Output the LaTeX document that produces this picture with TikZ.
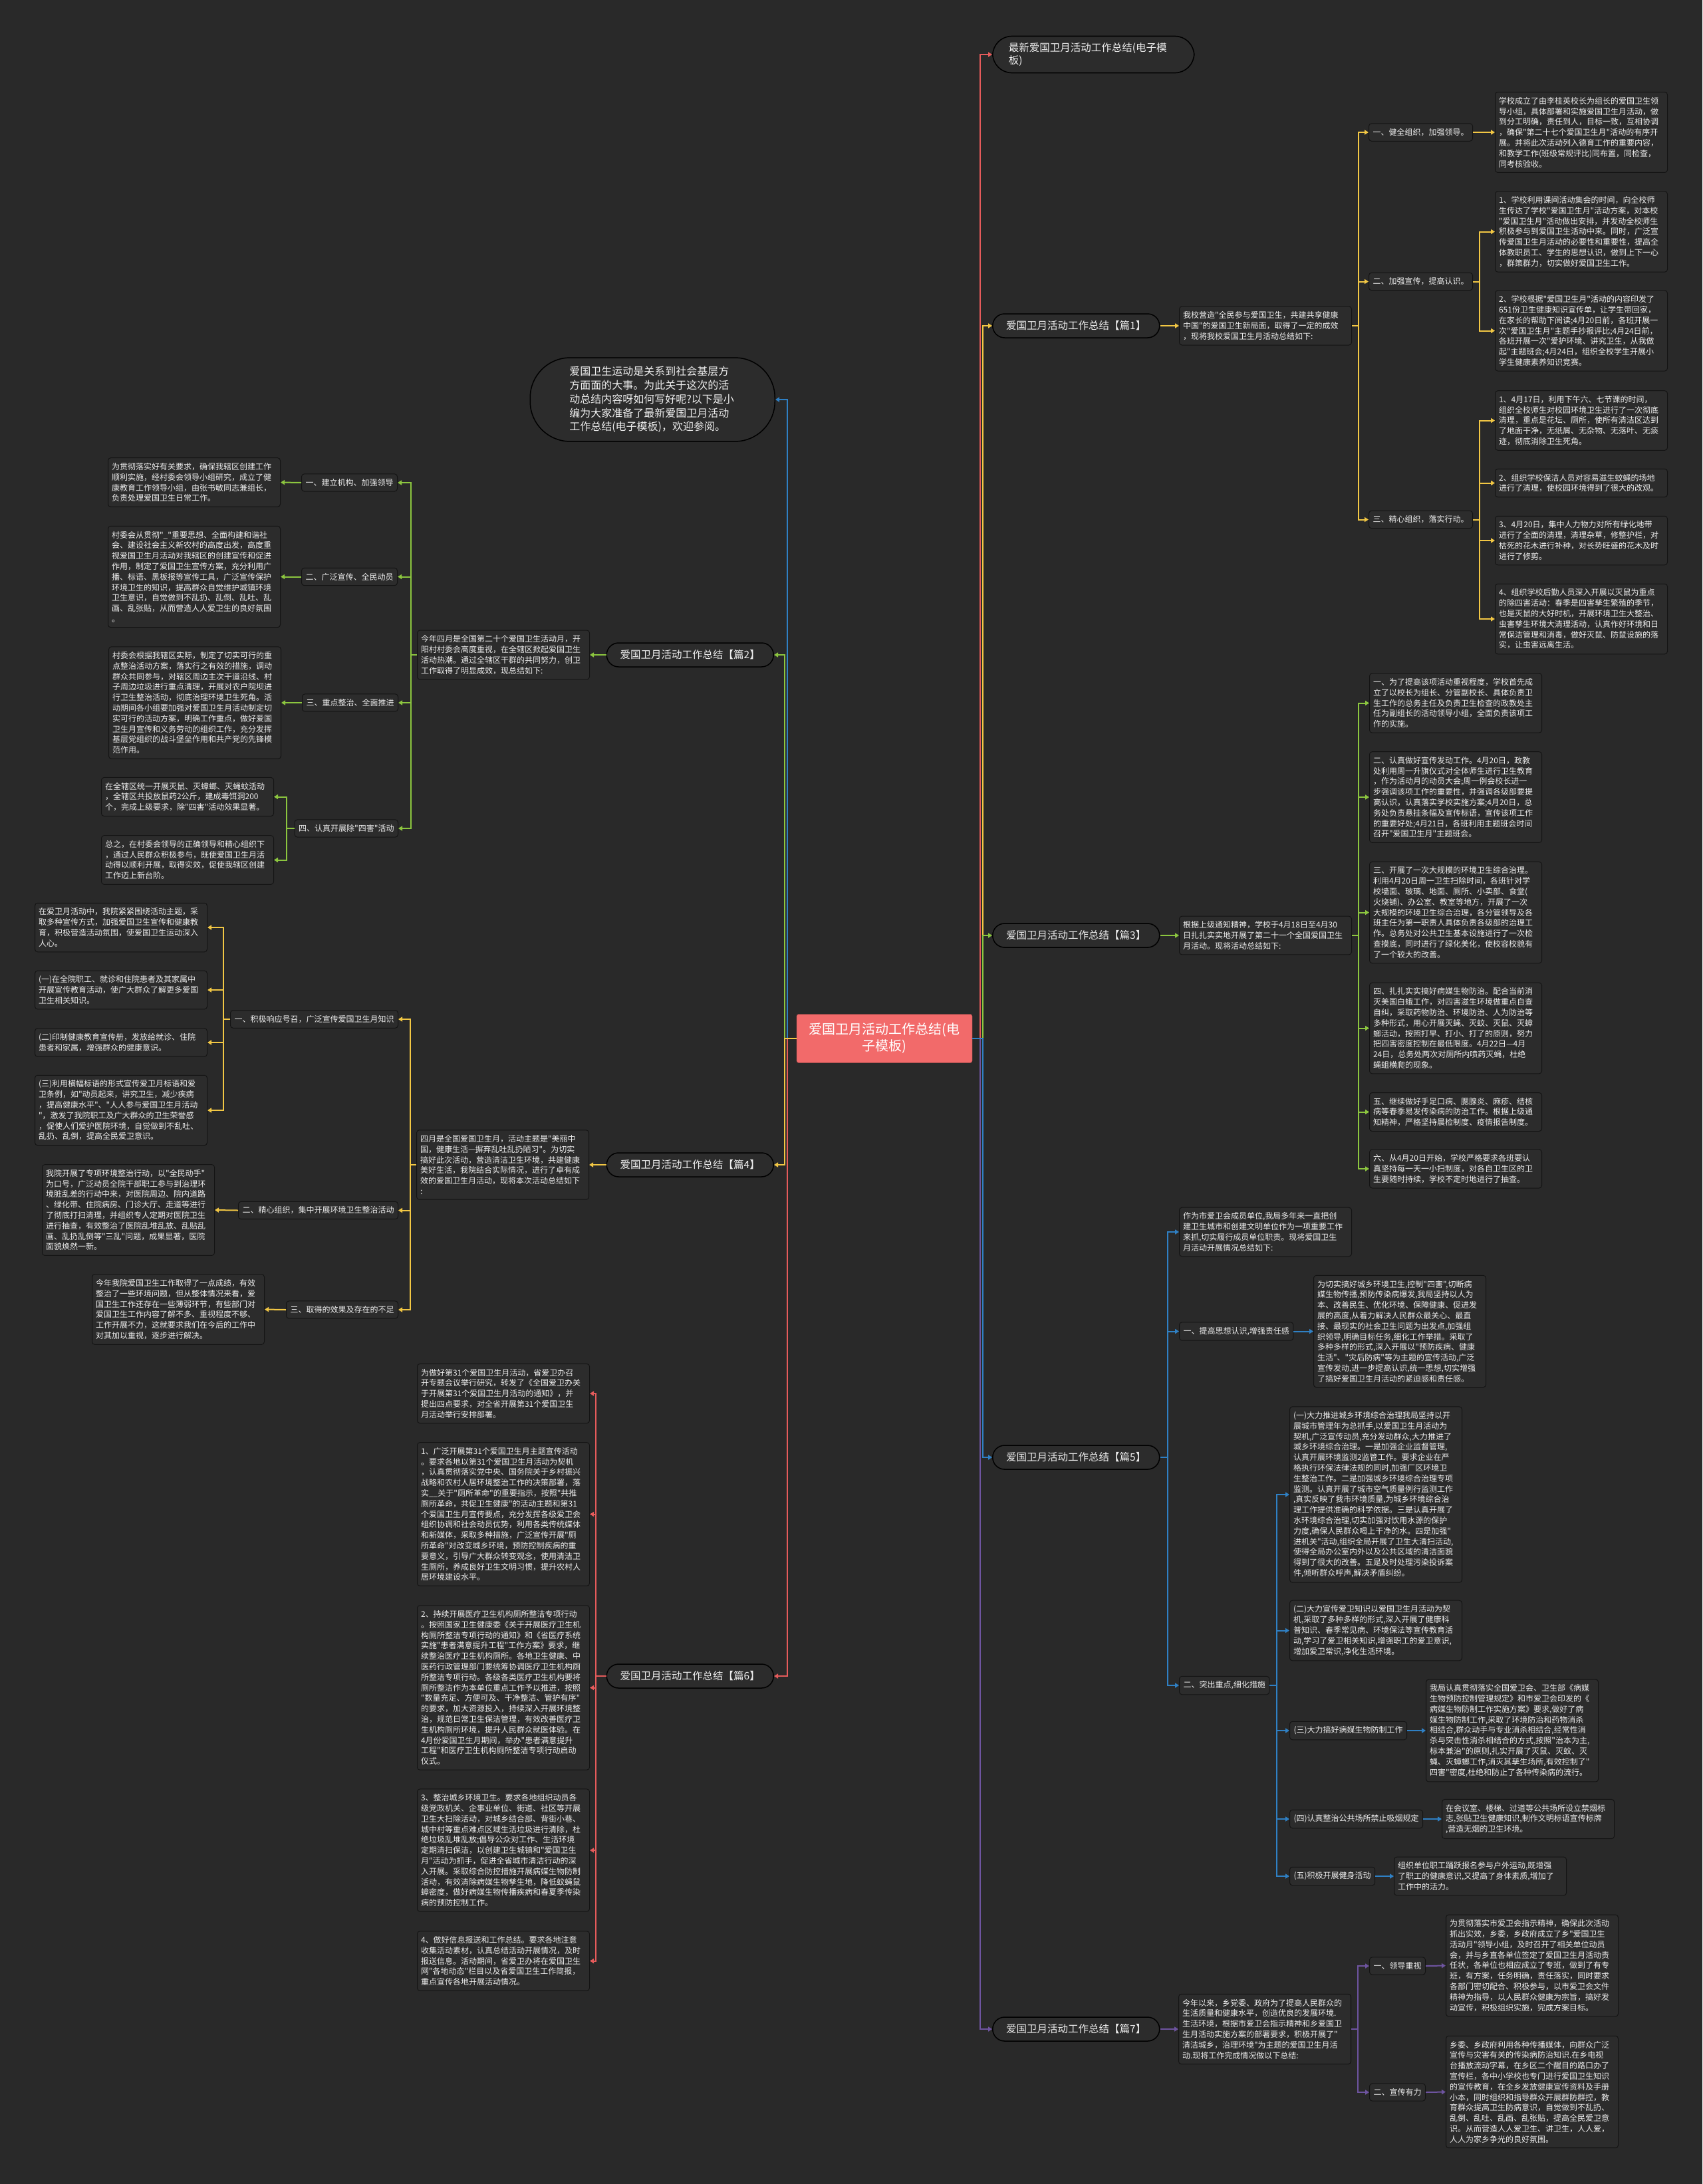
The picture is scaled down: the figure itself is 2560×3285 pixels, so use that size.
\documentclass[tikz,border=0pt]{standalone}
\usepackage{fontspec}
\newfontfamily\cjk{Noto Sans CJK SC}
\usetikzlibrary{arrows.meta,positioning}
\definecolor{bgc}{HTML}{292929}
\definecolor{boxc}{HTML}{2C2C2C}
\definecolor{edgec}{HTML}{141414}
\definecolor{txtc}{HTML}{EDEDED}
\definecolor{cyel}{HTML}{F2C744}
\definecolor{cgrn}{HTML}{8CC63F}
\definecolor{cblu}{HTML}{2F80C4}
\definecolor{cred}{HTML}{E55B5B}
\definecolor{cpur}{HTML}{6E54A0}
\definecolor{cctr}{HTML}{F26A6A}
\tikzset{
  leaf/.style={draw=edgec, fill=boxc, rounded corners=4pt, text=txtc, text width=248pt,
    align=left, inner xsep=5.5pt, inner ysep=7.5pt, line width=1pt,
    font=\cjk\fontsize{12}{15.8}\selectfont},
  sub/.style={draw=edgec, fill=boxc, rounded corners=4pt, text=txtc, inner xsep=6pt,
    inner ysep=7.5pt, line width=1pt, font=\cjk\fontsize{12}{15.8}\selectfont},
  pill/.style={draw=black, fill=boxc, rounded corners=18pt, text=txtc, minimum width=251pt,
    minimum height=36pt, line width=1.5pt, font=\cjk\fontsize{15.5}{19}\selectfont},
  ctr/.style={draw=cctr!70!black, fill=cctr, rounded corners=3pt, text=white, text width=240pt,
    align=center, minimum width=264pt, minimum height=73pt, font=\cjk\fontsize{20}{25}\selectfont},
  lnk/.style={line width=2pt, -{Triangle[length=6pt,width=7pt]}},
  yl/.style={lnk, draw=cyel},
  gl/.style={lnk, draw=cgrn},
  bl/.style={lnk, draw=cblu},
  rl/.style={lnk, draw=cred},
  pl/.style={lnk, draw=cpur}
}
\begin{document}
\begin{tikzpicture}[x=1pt,y=-1pt]
\fill[bgc] (0,0) rectangle (2560,3285);
\useasboundingbox (0,0) rectangle (2560,3285);
% centre
\node[ctr] (c) at (1330,1562) {爱国卫月活动工作总结(电\\子模板)};
% title and intro
\node[pill, anchor=west, text width=255pt, align=left, rounded corners=29pt, inner xsep=24pt, inner ysep=10pt] (top) at (1492,82) {最新爱国卫月活动工作总结(电子模\\板)};
\node[draw=black, fill=boxc, rounded corners=60pt, text=txtc, text width=250pt, align=left, inner xsep=59pt, inner ysep=13pt, line width=1.5pt, font=\cjk\fontsize{16}{20.8}\selectfont, anchor=east] (bub) at (1166,601) {爱国卫生运动是关系到社会基层方\\方面面的大事。为此关于这次的活\\动总结内容呀如何写好呢?以下是小\\编为大家准备了最新爱国卫月活动\\工作总结(电子模板)，欢迎参阅。};

% ---------- 篇1
\node[pill, anchor=west] (p1) at (1492,490) {爱国卫月活动工作总结【篇1】};
\node[leaf, anchor=west] (p1i) at (1773,490) {我校营造"全民参与爱国卫生，共建共享健康\\中国"的爱国卫生新局面，取得了一定的成效\\，现将我校爱国卫生月活动总结如下:};
\node[sub, anchor=west] (p1a) at (2058,199) {一、健全组织，加强领导。};
\node[sub, anchor=west] (p1b) at (2058,423.5) {二、加强宣传，提高认识。};
\node[sub, anchor=west] (p1c) at (2058,781.5) {三、精心组织，落实行动。};
\node[leaf, anchor=west] (p1a1) at (2248,199) {学校成立了由李桂英校长为组长的爱国卫生领\\导小组，具体部署和实施爱国卫生月活动，做\\到分工明确，责任到人，目标一致，互相协调\\，确保"第二十七个爱国卫生月"活动的有序开\\展。并将此次活动列入德育工作的重要内容，\\和教学工作(班级常规评比)同布置，同检查，\\同考核验收。};
\node[leaf, anchor=west] (p1b1) at (2248,348.5) {1、学校利用课间活动集会的时间，向全校师\\生传达了学校"爱国卫生月"活动方案，对本校\\"爱国卫生月"活动做出安排，并发动全校师生\\积极参与到爱国卫生活动中来。同时，广泛宣\\传爱国卫生月活动的必要性和重要性，提高全\\体教职员工、学生的思想认识，做到上下一心\\，群策群力，切实做好爱国卫生工作。};
\node[leaf, anchor=west] (p1b2) at (2248,497.5) {2、学校根据"爱国卫生月"活动的内容印发了\\651份卫生健康知识宣传单，让学生带回家，\\在家长的帮助下阅读;4月20日前，各班开展一\\次"爱国卫生月"主题手抄报评比;4月24日前，\\各班开展一次"爱护环境、讲究卫生，从我做\\起"主题班会;4月24日，组织全校学生开展小\\学生健康素养知识竞赛。};
\node[leaf, anchor=west] (p1c1) at (2248,632.5) {1、4月17日，利用下午六、七节课的时间，\\组织全校师生对校园环境卫生进行了一次彻底\\清理，重点是花坛、厕所，使所有清洁区达到\\了地面干净，无纸屑、无杂物、无落叶、无痰\\迹，彻底消除卫生死角。};
\node[leaf, anchor=west] (p1c2) at (2248,726.5) {2、组织学校保洁人员对容易滋生蚊蝇的场地\\进行了清理，使校园环境得到了很大的改观。};
\node[leaf, anchor=west] (p1c3) at (2248,813) {3、4月20日，集中人力物力对所有绿化地带\\进行了全面的清理，清理杂草，修整护栏，对\\枯死的花木进行补种，对长势旺盛的花木及时\\进行了修剪。};
\node[leaf, anchor=west] (p1c4) at (2248,931) {4、组织学校后勤人员深入开展以灭鼠为重点\\的除四害活动：春季是四害孳生繁殖的季节，\\也是灭鼠的大好时机，开展环境卫生大整治、\\虫害孳生环境大清理活动，认真作好环境和日\\常保洁管理和消毒，做好灭鼠、防鼠设施的落\\实，让虫害远离生活。};

% ---------- 篇3
\node[pill, anchor=west] (p3) at (1492,1407) {爱国卫月活动工作总结【篇3】};
\node[leaf, anchor=west] (p3i) at (1773,1407) {根据上级通知精神，学校于4月18日至4月30\\日扎扎实实地开展了第二十一个全国爱国卫生\\月活动。现将活动总结如下:};
\node[leaf, anchor=west] (p3a) at (2059,1057.5) {一、为了提高该项活动重视程度，学校首先成\\立了以校长为组长、分管副校长、具体负责卫\\生工作的总务主任及负责卫生检查的政教处主\\任为副组长的活动领导小组，全面负责该项工\\作的实施。};
\node[leaf, anchor=west] (p3b) at (2059,1199) {二、认真做好宣传发动工作。4月20日，政教\\处利用周一升旗仪式对全体师生进行卫生教育\\，作为活动月的动员大会;周一例会校长进一\\步强调该项工作的重要性，并强调各级部要提\\高认识，认真落实学校实施方案;4月20日，总\\务处负责悬挂条幅及宣传标语，宣传该项工作\\的重要好处;4月21日，各班利用主题班会时间\\召开"爱国卫生月"主题班会。};
\node[leaf, anchor=west] (p3c) at (2059,1372.5) {三、开展了一次大规模的环境卫生综合治理。\\利用4月20日周一卫生扫除时间，各班针对学\\校墙面、玻璃、地面、厕所、小卖部、食堂(\\火烧铺)、办公室、教室等地方，开展了一次\\大规模的环境卫生综合治理，各分管领导及各\\班主任为第一职责人具体负责各级部的治理工\\作。总务处对公共卫生基本设施进行了一次检\\查摸底，同时进行了绿化美化，使校容校貌有\\了一个较大的改善。};
\node[leaf, anchor=west] (p3d) at (2059,1546.5) {四、扎扎实实搞好病媒生物防治。配合当前消\\灭美国白蛾工作，对四害滋生环境做重点自查\\自纠，采取药物防治、环境防治、人为防治等\\多种形式，用心开展灭蝇、灭蚊、灭鼠、灭蟑\\螂活动，按照打早、打小、打了的原则，努力\\把四害密度控制在最低限度。4月22日—4月\\24日，总务处两次对厕所内喷药灭蝇，杜绝\\蝇蛆横爬的现象。};
\node[leaf, anchor=west] (p3e) at (2059,1672.5) {五、继续做好手足口病、腮腺炎、麻疹、结核\\病等春季易发传染病的防治工作。根据上级通\\知精神，严格坚持晨检制度、疫情报告制度。};
\node[leaf, anchor=west] (p3f) at (2059,1758) {六、从4月20日开始，学校严格要求各班要认\\真坚持每一天一小扫制度，对各自卫生区的卫\\生要随时持续，学校不定时地进行了抽查。};

% ---------- 篇5
\node[pill, anchor=west] (p5) at (1492,2192) {爱国卫月活动工作总结【篇5】};
\node[leaf, anchor=west] (p5i) at (1773,1853) {作为市爱卫会成员单位,我局多年来一直把创\\建卫生城市和创建文明单位作为一项重要工作\\来抓,切实履行成员单位职责。现将爱国卫生\\月活动开展情况总结如下:};
\node[sub, anchor=west] (p5a) at (1773,2002.5) {一、提高思想认识,增强责任感};
\node[leaf, anchor=west] (p5a1) at (1975,2002.5) {为切实搞好城乡环境卫生,控制"四害",切断病\\媒生物传播,预防传染病爆发,我局坚持以人为\\本、改善民生、优化环境、保障健康、促进发\\展的高度,从着力解决人民群众最关心、最直\\接、最现实的社会卫生问题为出发点,加强组\\织领导,明确目标任务,细化工作举措。采取了\\多种多样的形式,深入开展以"预防疾病、健康\\生活"、"灾后防病"等为主题的宣传活动,广泛\\宣传发动,进一步提高认识,统一思想,切实增强\\了搞好爱国卫生月活动的紧迫感和责任感。};
\node[sub, anchor=west] (p5b) at (1773,2535) {二、突出重点,细化措施};
\node[leaf, anchor=west] (p5b1) at (1939,2248) {(一)大力推进城乡环境综合治理我局坚持以开\\展城市管理年为总抓手,以爱国卫生月活动为\\契机,广泛宣传动员,充分发动群众,大力推进了\\城乡环境综合治理。一是加强企业监督管理,\\认真开展环境监测2监管工作。要求企业在严\\格执行环保法律法规的同时,加强厂区环境卫\\生整治工作。二是加强城乡环境综合治理专项\\监测。认真开展了城市空气质量例行监测工作\\,真实反映了我市环境质量,为城乡环境综合治\\理工作提供准确的科学依据。三是认真开展了\\水环境综合治理,切实加强对饮用水源的保护\\力度,确保人民群众喝上干净的水。四是加强"\\进机关"活动,组织全局开展了卫生大清扫活动,\\使得全局办公室内外以及公共区域的清洁面貌\\得到了很大的改善。五是及时处理污染投诉案\\件,倾听群众呼声,解决矛盾纠纷。};
\node[leaf, anchor=west] (p5b2) at (1939,2452.5) {(二)大力宣传爱卫知识以爱国卫生月活动为契\\机,采取了多种多样的形式,深入开展了健康科\\普知识、春季常见病、环境保法等宣传教育活\\动,学习了爱卫相关知识,增强职工的爱卫意识,\\增加爱卫常识,净化生活环境。};
\node[sub, anchor=west] (p5b3) at (1939,2603) {(三)大力搞好病媒生物防制工作};
\node[leaf, right=28pt of p5b3] (p5b3a) {我局认真贯彻落实全国爱卫会、卫生部《病媒\\生物预防控制管理规定》和市爱卫会印发的《\\病媒生物防制工作实施方案》要求,做好了病\\媒生物防制工作,采取了环境防治和药物消杀\\相结合,群众动手与专业消杀相结合,经常性消\\杀与突击性消杀相结合的方式,按照"治本为主,\\标本兼治"的原则,扎实开展了灭鼠、灭蚊、灭\\蝇、灭蟑螂工作,消灭其孳生场所,有效控制了"\\四害"密度,杜绝和防止了各种传染病的流行。};
\node[sub, anchor=west] (p5b4) at (1939,2736) {(四)认真整治公共场所禁止吸烟规定};
\node[leaf, right=28pt of p5b4] (p5b4a) {在会议室、楼梯、过道等公共场所设立禁烟标\\志,张贴卫生健康知识,制作文明标语宣传标牌\\,营造无烟的卫生环境。};
\node[sub, anchor=west] (p5b5) at (1939,2822) {(五)积极开展健身活动};
\node[leaf, right=28pt of p5b5] (p5b5a) {组织单位职工踊跃报名参与户外运动,既增强\\了职工的健康意识,又提高了身体素质,增加了\\工作中的活力。};

% ---------- 篇7
\node[pill, anchor=west] (p7) at (1492,3052) {爱国卫月活动工作总结【篇7】};
\node[leaf, anchor=west] (p7i) at (1772,3052) {今年以来，乡党委、政府为了提高人民群众的\\生活质量和健康水平，创造优良的发展环境.\\生活环境，根据市爱卫会指示精神和乡爱国卫\\生月活动实施方案的部署要求，积极开展了"\\清洁城乡，治理环境"为主题的爱国卫生月活\\动.现将工作完成情况做以下总结:};
\node[sub, anchor=west] (p7a) at (2059,2957) {一、领导重视};
\node[sub, anchor=west] (p7b) at (2059,3147) {二、宣传有力};
\node[leaf, anchor=west] (p7a1) at (2174,2956.5) {为贯彻落实市爱卫会指示精神，确保此次活动\\抓出实效，乡委，乡政府成立了乡"爱国卫生\\活动月"领导小组，及时召开了相关单位动员\\会，并与乡直各单位签定了爱国卫生月活动责\\任状，各单位也相应成立了专班，做到了有专\\班，有方案，任务明确，责任落实，同时要求\\各部门密切配合、积极参与，以市爱卫会文件\\精神为指导，以人民群众健康为宗旨，搞好发\\动宣传，积极组织实施，完成方案目标。};
\node[leaf, anchor=west] (p7b1) at (2174,3146.5) {乡委、乡政府利用各种传播媒体，向群众广泛\\宣传与灾害有关的传染病防治知识.在乡电视\\台播放流动字幕，在乡区二个醒目的路口办了\\宣传栏，各中小学校也专门进行爱国卫生知识\\的宣传教育，在全乡发放健康宣传资料及手册\\小本，同时组织和指导群众开展群防群控，教\\育群众提高卫生防病意识，自觉做到不乱扔、\\乱倒、乱吐、乱画、乱张贴，提高全民爱卫意\\识。从而营造人人爱卫生、讲卫生，人人爱，\\人人为家乡争光的良好氛围。};

% ---------- 篇2
\node[pill, anchor=east] (p2) at (1164,985) {爱国卫月活动工作总结【篇2】};
\node[leaf, anchor=east] (p2i) at (887,985) {今年四月是全国第二十个爱国卫生活动月，开\\阳村村委会高度重视，在全辖区掀起爱国卫生\\活动热潮。通过全辖区干群的共同努力，创卫\\工作取得了明显成效，现总结如下:};
\node[sub, anchor=east] (p2a) at (598,726) {一、建立机构、加强领导};
\node[sub, anchor=east] (p2b) at (598,867.5) {二、广泛宣传、全民动员};
\node[sub, anchor=east] (p2c) at (599,1057) {三、重点整治、全面推进};
\node[sub, anchor=east] (p2d) at (599,1246) {四、认真开展除"四害"活动};
\node[leaf, anchor=east] (p2a1) at (422,725.5) {为贯彻落实好有关要求，确保我辖区创建工作\\顺利实施，经村委会领导小组研究，成立了健\\康教育工作领导小组，由张书敏同志兼组长，\\负责处理爱国卫生日常工作。};
\node[leaf, anchor=east] (p2b1) at (422,867.5) {村委会从贯彻"\_"重要思想、全面构建和谐社\\会、建设社会主义新农村的高度出发，高度重\\视爱国卫生月活动对我辖区的创建宣传和促进\\作用，制定了爱国卫生宣传方案，充分利用广\\播、标语、黑板报等宣传工具，广泛宣传保护\\环境卫生的知识，提高群众自觉维护城镇环境\\卫生意识，自觉做到不乱扔、乱倒、乱吐、乱\\画、乱张贴，从而营造人人爱卫生的良好氛围\\。};
\node[leaf, anchor=east] (p2c1) at (423,1057) {村委会根据我辖区实际，制定了切实可行的重\\点整治活动方案，落实行之有效的措施，调动\\群众共同参与，对辖区周边主次干道沿线、村\\子周边垃圾进行重点清理，开展对农户院坝进\\行卫生整治活动，彻底治理环境卫生死角。活\\动期间各小组要加强对爱国卫生月活动制定切\\实可行的活动方案，明确工作重点，做好爱国\\卫生月宣传和义务劳动的组织工作，充分发挥\\基层党组织的战斗堡垒作用和共产党的先锋模\\范作用。};
\node[leaf, anchor=east] (p2d1) at (412,1198.5) {在全辖区统一开展灭鼠、灭蟑螂、灭蝇蚊活动\\，全辖区共投放鼠药2公斤，建成毒饵洞200\\个，完成上级要求，除"四害"活动效果显著。};
\node[leaf, anchor=east] (p2d2) at (412,1293.5) {总之，在村委会领导的正确领导和精心组织下\\，通过人民群众积极参与，既使爱国卫生月活\\动得以顺利开展，取得实效，促使我辖区创建\\工作迈上新台阶。};

% ---------- 篇4
\node[pill, anchor=east] (p4) at (1164,1752) {爱国卫月活动工作总结【篇4】};
\node[leaf, anchor=east] (p4i) at (886,1752) {四月是全国爱国卫生月，活动主题是"美丽中\\国，健康生活—摒弃乱吐乱扔陋习"。为切实\\搞好此次活动，营造清洁卫生环境，共建健康\\美好生活，我院结合实际情况，进行了卓有成\\效的爱国卫生月活动，现将本次活动总结如下\\:};
\node[sub, anchor=east] (p4a) at (599,1533) {一、积极响应号召，广泛宣传爱国卫生月知识};
\node[sub, anchor=east] (p4b) at (599,1820.5) {二、精心组织，集中开展环境卫生整治活动};
\node[sub, anchor=east] (p4c) at (599,1970) {三、取得的效果及存在的不足};
\node[leaf, anchor=east] (p4a1) at (312,1395) {在爱卫月活动中，我院紧紧围绕活动主题，采\\取多种宣传方式，加强爱国卫生宣传和健康教\\育，积极营造活动氛围，使爱国卫生运动深入\\人心。};
\node[leaf, anchor=east] (p4a2) at (312,1489) {(一)在全院职工、就诊和住院患者及其家属中\\开展宣传教育活动，使广大群众了解更多爱国\\卫生相关知识。};
\node[leaf, anchor=east] (p4a3) at (312,1568) {(二)印制健康教育宣传册，发放给就诊、住院\\患者和家属，增强群众的健康意识。};
\node[leaf, anchor=east] (p4a4) at (312,1670) {(三)利用横幅标语的形式宣传爱卫月标语和爱\\卫条例，如"动员起来，讲究卫生，减少疾病\\，提高健康水平"、"人人参与爱国卫生月活动\\"，激发了我院职工及广大群众的卫生荣誉感\\，促使人们爱护医院环境，自觉做到不乱吐、\\乱扔、乱倒，提高全民爱卫意识。};
\node[leaf, anchor=east] (p4b1) at (323,1820) {我院开展了专项环境整治行动，以"全民动手"\\为口号，广泛动员全院干部职工参与到治理环\\境脏乱差的行动中来，对医院周边、院内道路\\、绿化带、住院病房、门诊大厅、走道等进行\\了彻底打扫清理，并组织专人定期对医院卫生\\进行抽查，有效整治了医院乱堆乱放、乱贴乱\\画、乱扔乱倒等"三乱"问题，成果显著，医院\\面貌焕然一新。};
\node[leaf, anchor=east] (p4c1) at (398,1969.5) {今年我院爱国卫生工作取得了一点成绩，有效\\整治了一些环境问题，但从整体情况来看，爱\\国卫生工作还存在一些薄弱环节，有些部门对\\爱国卫生工作内容了解不多、重视程度不够、\\工作开展不力，这就要求我们在今后的工作中\\对其加以重视，逐步进行解决。};

% ---------- 篇6
\node[pill, anchor=east] (p6) at (1164,2521) {爱国卫月活动工作总结【篇6】};
\node[leaf, anchor=east] (p6a) at (887,2096) {为做好第31个爱国卫生月活动，省爱卫办召\\开专题会议举行研究，转发了《全国爱卫办关\\于开展第31个爱国卫生月活动的通知》，并\\提出四点要求，对全省开展第31个爱国卫生\\月活动举行安排部署。};
\node[leaf, anchor=east] (p6b) at (887,2277.5) {1、广泛开展第31个爱国卫生月主题宣传活动\\。要求各地以第31个爱国卫生月活动为契机\\，认真贯彻落实党中央、国务院关于乡村振兴\\战略和农村人居环境整治工作的决策部署，落\\实\_\_关于"厕所革命"的重要指示，按照"共推\\厕所革命，共促卫生健康"的活动主题和第31\\个爱国卫生月宣传要点，充分发挥各级爱卫会\\组织协调和社会动员优势，利用各类传统媒体\\和新媒体，采取多种措施，广泛宣传开展"厕\\所革命"对改变城乡环境，预防控制疾病的重\\要意义，引导广大群众转变观念，使用清洁卫\\生厕所，养成良好卫生文明习惯，提升农村人\\居环境建设水平。};
\node[leaf, anchor=east] (p6c) at (887,2538.5) {2、持续开展医疗卫生机构厕所整洁专项行动\\。按照国家卫生健康委《关于开展医疗卫生机\\构厕所整洁专项行动的通知》和《省医疗系统\\实施"患者满意提升工程"工作方案》要求，继\\续整治医疗卫生机构厕所。各地卫生健康、中\\医药行政管理部门要统筹协调医疗卫生机构厕\\所整洁专项行动。各级各类医疗卫生机构要将\\厕所整洁作为本单位重点工作予以推进，按照\\"数量充足、方便可及、干净整洁、管护有序"\\的要求，加大资源投入，持续深入开展环境整\\治，规范日常卫生保洁管理，有效改善医疗卫\\生机构厕所环境，提升人民群众就医体验。在\\4月份爱国卫生月期间，举办"患者满意提升\\工程"和医疗卫生机构厕所整洁专项行动启动\\仪式。};
\node[leaf, anchor=east] (p6d) at (887,2783) {3、整治城乡环境卫生。要求各地组织动员各\\级党政机关、企事业单位、街道、社区等开展\\卫生大扫除活动，对城乡结合部、背街小巷、\\城中村等重点难点区域生活垃圾进行清除，杜\\绝垃圾乱堆乱放;倡导公众对工作、生活环境\\定期清扫保洁，以创建卫生城镇和"爱国卫生\\月"活动为抓手，促进全省城市清洁行动的深\\入开展。采取综合防控措施开展病媒生物防制\\活动，有效清除病媒生物孳生地，降低蚊蝇鼠\\蟑密度，做好病媒生物传播疾病和春夏季传染\\病的预防控制工作。};
\node[leaf, anchor=east] (p6e) at (887,2949.5) {4、做好信息报送和工作总结。要求各地注意\\收集活动素材，认真总结活动开展情况，及时\\报送信息。活动期间，省爱卫办将在爱国卫生\\网"各地动态"栏目以及省爱国卫生工作简报，\\重点宣传各地开展活动情况。};

% ---------- connectors, right half
\draw[rl] (c.east) -- ++(12,0) |- (top.west);
\draw[yl] (c.east) -- ++(16,0) |- (p1.west);
\draw[gl] (c.east) -- ++(16,0) |- (p3.west);
\draw[pl] (c.east) -- ++(12,0) |- (p7.west);
\draw[bl] (c.east) -- ++(16,0) |- (p5.west);
\draw[yl] (p1.east) -- (p1i.west);
\foreach \n in {p1a,p1b,p1c} \draw[yl] (p1i.east) -- ++(10,0) |- (\n.west);
\draw[yl] (p1a.east) -- (p1a1.west);
\foreach \n in {p1b1,p1b2} \draw[yl] (p1b.east) -- ++(10,0) |- (\n.west);
\foreach \n in {p1c1,p1c2,p1c3,p1c4} \draw[yl] (p1c.east) -- ++(10,0) |- (\n.west);
\draw[gl] (p3.east) -- (p3i.west);
\foreach \n in {p3a,p3b,p3c,p3d,p3e,p3f} \draw[gl] (p3i.east) -- ++(10,0) |- (\n.west);
\foreach \n in {p5i,p5a,p5b} \draw[bl] (p5.east) -- ++(11,0) |- (\n.west);
\draw[bl] (p5a.east) -- (p5a1.west);
\foreach \n in {p5b1,p5b2,p5b3,p5b4,p5b5} \draw[bl] (p5b.east) -- ++(11,0) |- (\n.west);
\draw[bl] (p5b3.east) -- (p5b3a.west);
\draw[bl] (p5b4.east) -- (p5b4a.west);
\draw[bl] (p5b5.east) -- (p5b5a.west);
\draw[pl] (p7.east) -- (p7i.west);
\foreach \n in {p7a,p7b} \draw[pl] (p7i.east) -- ++(10,0) |- (\n.west);
\draw[pl] (p7a.east) -- (p7a1.west);
\draw[pl] (p7b.east) -- (p7b1.west);

% ---------- connectors, left half
\draw[bl] (c.west) -- ++(-14,0) |- (bub.east);
\draw[gl] (c.west) -- ++(-18,0) |- (p2.east);
\draw[rl] (c.west) -- ++(-14,0) |- (p6.east);
\draw[yl] (c.west) -- ++(-18,0) |- (p4.east);
\draw[gl] (p2.west) -- (p2i.east);
\foreach \n in {p2a,p2b,p2c,p2d} \draw[gl] (p2i.west) -- ++(-9,0) |- (\n.east);
\draw[gl] (p2a.west) -- (p2a1.east);
\draw[gl] (p2b.west) -- (p2b1.east);
\draw[gl] (p2c.west) -- (p2c1.east);
\foreach \n in {p2d1,p2d2} \draw[gl] (p2d.west) -- ++(-12,0) |- (\n.east);
\draw[yl] (p4.west) -- (p4i.east);
\foreach \n in {p4a,p4b,p4c} \draw[yl] (p4i.west) -- ++(-9,0) |- (\n.east);
\foreach \n in {p4a1,p4a2,p4a3,p4a4} \draw[yl] (p4a.west) -- ++(-10,0) |- (\n.east);
\draw[yl] (p4b.west) -- (p4b1.east);
\draw[yl] (p4c.west) -- (p4c1.east);
\foreach \n in {p6a,p6b,p6c,p6d,p6e} \draw[rl] (p6.west) -- ++(-16,0) |- (\n.east);
\end{tikzpicture}
\end{document}
